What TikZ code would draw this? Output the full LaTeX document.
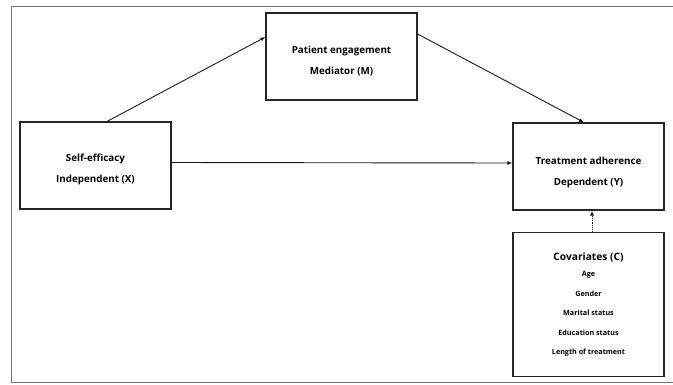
\documentclass[tikz,border=0pt]{standalone}
\usepackage{fontspec}
\setmainfont{Open Sans}
\usetikzlibrary{arrows.meta,calc}
\newcommand\pushdown[1]{\rule{0pt}{#1}}
\tikzset{
  box/.style={draw=black!85, line width=1.1pt, rectangle, minimum width=151pt, inner sep=0pt, align=center, font=\bfseries\fontsize{9.8}{11}\selectfont},
  conn/.style={draw=black!90, line width=0.9pt, -{Latex[length=5pt,width=4pt]}},
  frame/.style={draw=black!55, line width=0.8pt},
}
\begin{document}
\begin{tikzpicture}[x=1pt,y=-1pt]
\useasboundingbox (0,0) rectangle (673,384);
\draw[frame] (676,6) -- (11.5,6) -- (11.5,382.5) -- (676,382.5);
\node[box, minimum height=87pt] (X) at (95.5,165.5) {\pushdown{15pt}Self-efficacy\\[10pt]Independent (X)};
\node[box, minimum height=87pt] (M) at (341.5,56.5) {\pushdown{17pt}Patient engagement\\[10pt]Mediator (M)};
\node[box, minimum height=87pt] (Y) at (588.5,166.5) {\pushdown{19pt}Treatment adherence\\[10pt]Dependent (Y)};
\node[box, minimum height=144pt] (C) at (588.5,304.5) {{\fontsize{10.2}{11}\selectfont Covariates (C)}\\[5.5pt]
  {\fontsize{7.2}{8}\selectfont Age}\\[8.5pt]
  {\fontsize{7.2}{8}\selectfont Gender}\\[8.5pt]
  {\fontsize{7.2}{8}\selectfont Marital status}\\[8.5pt]
  {\fontsize{7.2}{8}\selectfont Education status}\\[8.5pt]
  {\fontsize{7.2}{8}\selectfont Length of treatment}};
\draw[conn] ($(X.north)+(11.5,0)$) -- ($(M.west)+(0,-19.5)$);
\draw[conn] ($(M.east)+(0,-22.5)$) -- ($(Y.north)+(-4.5,0)$);
\draw[conn] ($(X.east)+(0,-3)$) -- ($(Y.west)+(0,-3.5)$);
\draw[conn, densely dotted] ($(C.north)+(3.5,0)$) -- ($(Y.south)+(3.5,0)$);
\end{tikzpicture}
\end{document}
